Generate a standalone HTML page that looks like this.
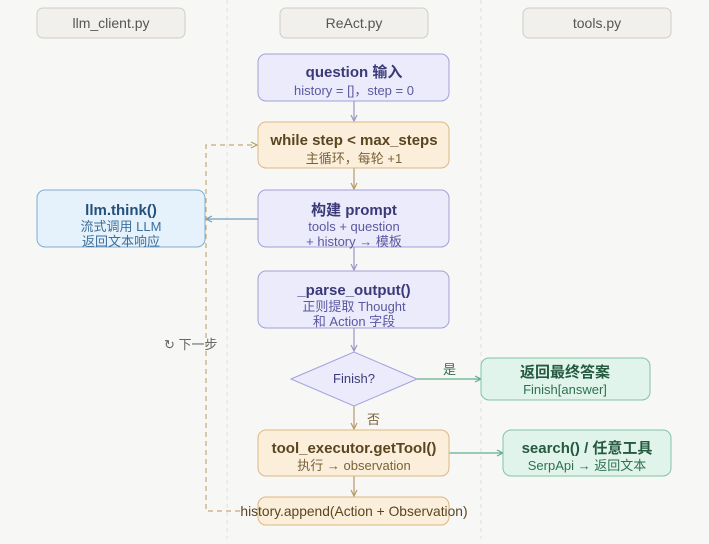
<!DOCTYPE html>
<html><head><meta charset="utf-8"><style>
body{margin:0;width:709px;height:539px;background:#f7f7f5;font-family:"Liberation Sans","Noto Sans CJK SC",sans-serif;overflow:hidden}
svg text{font-family:"Liberation Sans","Noto Sans CJK SC",sans-serif}
</style></head><body>
<svg width="709" height="539" viewBox="0 0 709 539" xmlns="http://www.w3.org/2000/svg">
<defs>
<marker id="ap" markerWidth="8" markerHeight="8" refX="7" refY="4" orient="auto" markerUnits="userSpaceOnUse"><path d="M1,1 L7,4 L1,7" fill="none" stroke="#9a97c8" stroke-width="1.2"/></marker>
<marker id="ao" markerWidth="8" markerHeight="8" refX="7" refY="4" orient="auto" markerUnits="userSpaceOnUse"><path d="M1,1 L7,4 L1,7" fill="none" stroke="#b89a6a" stroke-width="1.2"/></marker>
<marker id="ab" markerWidth="8" markerHeight="8" refX="7" refY="4" orient="auto" markerUnits="userSpaceOnUse"><path d="M1,1 L7,4 L1,7" fill="none" stroke="#6f9ec0" stroke-width="1.2"/></marker>
<marker id="ag" markerWidth="8" markerHeight="8" refX="7" refY="4" orient="auto" markerUnits="userSpaceOnUse"><path d="M1,1 L7,4 L1,7" fill="none" stroke="#5fae8e" stroke-width="1.2"/></marker>
</defs>
<line x1="227" y1="0" x2="227" y2="539" stroke="#e2e2e0" stroke-dasharray="4,4"/>
<line x1="481" y1="0" x2="481" y2="539" stroke="#e2e2e0" stroke-dasharray="4,4"/>
<g fill="#f1f0ec" stroke="#cfcdc6">
<rect x="37" y="8" width="148" height="30" rx="6"/>
<rect x="280" y="8" width="148" height="30" rx="6"/>
<rect x="523" y="8" width="148" height="30" rx="6"/>
</g>
<g font-size="14" fill="#555" text-anchor="middle">
<text x="111" y="28">llm_client.py</text><text x="354" y="28">ReAct.py</text><text x="597" y="28">tools.py</text>
</g>
<g stroke-width="1.2" fill="none">
<line x1="354" y1="101" x2="354" y2="121" stroke="#9a97c8" marker-end="url(#ap)"/>
<line x1="354" y1="168" x2="354" y2="189" stroke="#b89a6a" marker-end="url(#ao)"/>
<line x1="354" y1="247" x2="354" y2="270" stroke="#9a97c8" marker-end="url(#ap)"/>
<line x1="354" y1="328" x2="354" y2="351" stroke="#9a97c8" marker-end="url(#ap)"/>
<line x1="354" y1="406" x2="354" y2="429" stroke="#b89a6a" marker-end="url(#ao)"/>
<line x1="354" y1="476" x2="354" y2="496" stroke="#b89a6a" marker-end="url(#ao)"/>
<line x1="258" y1="219" x2="206" y2="219" stroke="#6f9ec0" marker-end="url(#ab)"/>
<line x1="416" y1="379" x2="481" y2="379" stroke="#5fae8e" marker-end="url(#ag)"/>
<line x1="449" y1="453" x2="503" y2="453" stroke="#5fae8e" marker-end="url(#ag)"/>
<path d="M240,511 H206 V145 H257" stroke="#c8a878" stroke-dasharray="5,4" marker-end="url(#ao)"/>
</g>
<rect x="258" y="54" width="191" height="47" rx="8" fill="#ecebfb" stroke="#a39fdb"/>
<rect x="258" y="122" width="191" height="46" rx="8" fill="#fbefdc" stroke="#dcb784"/>
<rect x="258" y="190" width="191" height="57" rx="8" fill="#ecebfb" stroke="#a39fdb"/>
<rect x="37" y="190" width="168" height="57" rx="8" fill="#e5f1fb" stroke="#7daed4"/>
<rect x="258" y="271" width="191" height="57" rx="8" fill="#ecebfb" stroke="#a39fdb"/>
<polygon points="291,379 354,352 417,379 354,406" fill="#ecebfb" stroke="#a39fdb"/>
<rect x="481" y="358" width="169" height="42" rx="8" fill="#e1f4ec" stroke="#80c4a6"/>
<rect x="258" y="430" width="191" height="46" rx="8" fill="#fbefdc" stroke="#dcb784"/>
<rect x="503" y="430" width="168" height="46" rx="8" fill="#e1f4ec" stroke="#80c4a6"/>
<rect x="258" y="497" width="191" height="28" rx="8" fill="#fbefdc" stroke="#dcb784"/>
<g text-anchor="middle">
<text x="354" y="77" font-size="15" font-weight="bold" fill="#3b3a78">question 输入</text>
<text x="354" y="95" font-size="13" fill="#5a58a0">history = []，step = 0</text>
<text x="354" y="145" font-size="15" font-weight="bold" fill="#5a4520">while step &lt; max_steps</text>
<text x="354" y="163" font-size="13" fill="#7a6238">主循环，每轮 +1</text>
<text x="354" y="215" font-size="15" font-weight="bold" fill="#3b3a78">构建 prompt</text>
<text x="354" y="231" font-size="13" fill="#5a58a0">tools + question</text>
<text x="354" y="246" font-size="13" fill="#5a58a0">+ history → 模板</text>
<text x="121" y="215" font-size="15" font-weight="bold" fill="#24507a">llm.think()</text>
<text x="121" y="231" font-size="13" fill="#3d6f9a">流式调用 LLM</text>
<text x="121" y="246" font-size="13" fill="#3d6f9a">返回文本响应</text>
<text x="354" y="295" font-size="15" font-weight="bold" fill="#3b3a78">_parse_output()</text>
<text x="354" y="311" font-size="13" fill="#5a58a0">正则提取 Thought</text>
<text x="354" y="326" font-size="13" fill="#5a58a0">和 Action 字段</text>
<text x="354" y="383" font-size="13" fill="#3b3a78">Finish?</text>
<text x="565" y="377" font-size="15" font-weight="bold" fill="#255a40">返回最终答案</text>
<text x="565" y="394" font-size="13" fill="#2f7050">Finish[answer]</text>
<text x="354" y="453" font-size="15" font-weight="bold" fill="#5a4520">tool_executor.getTool()</text>
<text x="354" y="470" font-size="13" fill="#7a6238">执行 → observation</text>
<text x="587" y="453" font-size="15" font-weight="bold" fill="#255a40">search() / 任意工具</text>
<text x="587" y="470" font-size="13" fill="#2f7050">SerpApi → 返回文本</text>
<text x="354" y="516" font-size="13.8" fill="#5a4520">history.append(Action + Observation)</text>
</g>
<text x="443" y="374" font-size="13" fill="#2f7050">是</text>
<text x="367" y="424" font-size="13" fill="#7a6238">否</text>
<text x="164" y="349" font-size="13" fill="#666">↻ 下一步</text>
</svg>
</body></html>
